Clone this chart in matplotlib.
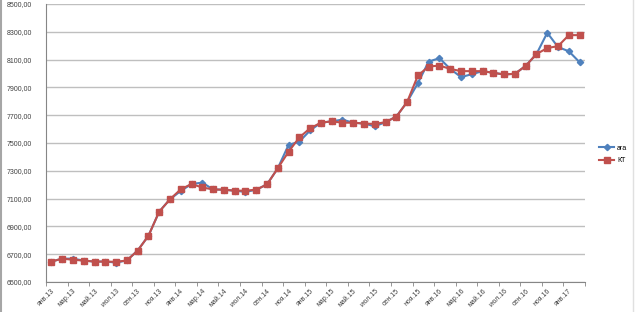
import numpy as np
import matplotlib
matplotlib.use('Agg')
import matplotlib.pyplot as plt
from matplotlib.lines import Line2D
from matplotlib.ticker import FuncFormatter

plt.rcParams['font.family'] = ['Liberation Sans', 'DejaVu Sans']

# monthly values, Jan 2013 .. Feb 2017
aga = [6647, 6668, 6668, 6654, 6647, 6647, 6640, 6655, 6726, 6832,
       7006, 7095, 7155, 7205, 7215, 7166, 7164, 7157, 7148, 7164,
       7202, 7318, 7486, 7510, 7590, 7646, 7656, 7668, 7646, 7640,
       7620, 7650, 7690, 7795, 7931, 8086, 8110, 8033, 7974, 7995,
       8017, 8005, 7993, 7998, 8055, 8140, 8293, 8190, 8160, 8081]
kt = [6647, 6668, 6660, 6654, 6647, 6647, 6645, 6655, 6726, 6832,
      7006, 7095, 7167, 7205, 7180, 7166, 7164, 7157, 7157, 7164,
      7202, 7318, 7437, 7540, 7606, 7646, 7656, 7646, 7646, 7640,
      7637, 7650, 7690, 7795, 7986, 8050, 8057, 8033, 8017, 8017,
      8017, 8005, 7993, 7998, 8055, 8140, 8183, 8197, 8276, 8276]
tick_labels = ['янв.13', 'мар.13', 'май.13', 'июл.13', 'сен.13', 'ноя.13',
               'янв.14', 'мар.14', 'май.14', 'июл.14', 'сен.14', 'ноя.14',
               'янв.15', 'мар.15', 'май.15', 'июл.15', 'сен.15', 'ноя.15',
               'янв.16', 'мар.16', 'май.16', 'июл.16', 'сен.16', 'ноя.16',
               'янв.17']

x = np.arange(len(aga))

fig = plt.figure(figsize=(6.41, 3.12), dpi=100)
ax = fig.add_axes([46/641, 1 - 282/312, 539/641, 278/312])

ax.plot(x, aga, color='#4F81BD', lw=1.5, marker='D', ms=3.2, label='ага', zorder=3)
ax.plot(x, kt, color='#C0504D', lw=1.5, marker='s', ms=4.3, label='КТ', zorder=4)

ax.set_xlim(-0.5, len(aga) - 0.5)
ax.set_ylim(6500, 8500)
ax.set_yticks(np.arange(6500, 8501, 200))
ax.yaxis.set_major_formatter(FuncFormatter(lambda v, p: f'{v:.2f}'.replace('.', ',')))
ax.grid(axis='y', color='#BFBFBF', lw=1)
ax.set_axisbelow(True)

ax.set_xticks(x[::2])
ax.set_xticklabels(tick_labels, rotation=45, ha='right', rotation_mode='anchor')
ax.set_xticks(np.arange(-0.5, len(aga), 2), minor=True)
ax.tick_params(axis='x', which='major', length=0, labelsize=5, colors='#404040', pad=4)
ax.tick_params(axis='x', which='minor', length=3, color='#868686')
ax.tick_params(axis='y', length=0, labelsize=5, colors='#404040', pad=10)

for s in ['top', 'right']:
    ax.spines[s].set_visible(False)
ax.spines['left'].set_color('#868686')
ax.spines['bottom'].set_color('#868686')

fig.legend(loc='center left', bbox_to_anchor=(0.925, 0.505), frameon=False,
           fontsize=5, handlelength=2.2, handletextpad=0.4, labelspacing=0.8)

fig.add_artist(Line2D([0.002, 0.002], [0, 1], color='#A6A6A6', lw=1.5))
fig.add_artist(Line2D([0.987, 0.987], [0, 1], color='#E0E0E0', lw=1))

fig.savefig('out.png', dpi=100)
